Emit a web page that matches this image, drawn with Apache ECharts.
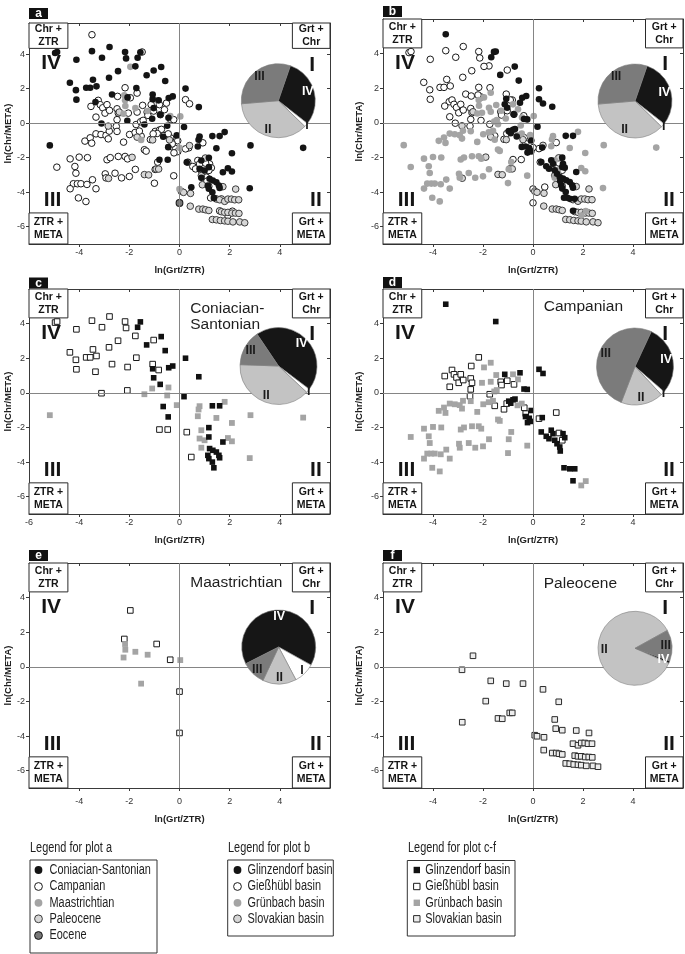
<!DOCTYPE html>
<html><head><meta charset="utf-8">
<script src="https://cdn.jsdelivr.net/npm/echarts@6/dist/echarts.min.js"></script>
<style>html,body{margin:0;padding:0;background:#fff}#c{width:685px;height:954px}</style>
</head><body><div id="c"></div><script>
// ---------------- DATA ----------------
const ageNames = ['Coniacian-Santonian','Campanian','Maastrichtian','Paleocene','Eocene'];
const basinNames = ['Glinzendorf basin','Gießhübl basin','Grünbach basin','Slovakian basin'];
const panelLetters = ['a','b','c','d','e','f'];
const panelTitles = ['','','Coniacian-\nSantonian','Campanian','Maastrichtian','Paleocene'];
const xTickValues = [-4,-2,0,2,4];
const xTickLabelsC = [-6,-4,-2,0,2,4];
const yTickValues = [-6,-4,-2,0,2,4];
const quadrantNames = ['IV','I','II','III'];
const cornerBoxNames = ['Chr +\nZTR','Grt +\nChr','ZTR +\nMETA','Grt +\nMETA'];
const xAxisName = 'ln(Grt/ZTR)';
const yAxisName = 'ln(Chr/META)';

// Coniacian-Santonian (panel c)
const csGlinzendorf = [[-1.56,4.1],[-1.67,3.79],[-0.73,3.25],[-1.31,2.77],[-0.57,2.44],[-1.07,1.39],[-0.43,1.45],[-0.27,1.55],[-1.03,0.87],[-0.77,0.49],[0.24,2.0],[0.77,0.93],[0.18,-0.22],[-0.65,-0.79],[-0.45,-1.39],[1.31,-0.75],[1.6,-0.75],[1.17,-2.01],[1.17,-2.55],[1.73,-2.84],[1.2,-3.22],[1.33,-3.32],[1.47,-3.42],[1.57,-3.61],[1.6,-3.75],[1.13,-3.61],[1.17,-3.8],[1.31,-4.0],[1.37,-4.33]];
const csGiesshuebl = [[-4.96,4.06],[-4.88,4.12],[-4.11,3.67],[-3.49,4.17],[-3.09,3.79],[-2.79,4.41],[-2.17,4.12],[-2.13,3.75],[-1.76,3.29],[-2.45,3.01],[-1.03,3.05],[-4.37,2.34],[-4.13,1.91],[-3.72,2.05],[-3.56,2.05],[-3.45,2.51],[-3.31,2.13],[-2.81,2.63],[-1.72,2.03],[-4.11,1.36],[-3.35,1.22],[-2.69,1.66],[-2.07,1.49],[-1.07,1.66],[-0.83,1.32],[-3.11,-0.02],[-2.08,0.14],[-0.8,-2.12],[-0.47,-2.12],[0.29,-2.27],[0.47,-3.71]];
const csGruenbach = [[-5.17,-1.29],[-1.09,0.25],[-0.44,0.31],[-1.4,-0.08],[-0.49,-0.15],[-0.11,-0.71],[0.8,-0.77],[0.76,-0.96],[0.73,-1.35],[1.8,-0.52],[1.47,-1.45],[2.09,-1.74],[2.83,-1.29],[4.93,-1.43],[0.87,-2.16],[0.8,-2.64],[1.0,-2.74],[1.93,-2.61],[2.09,-2.8],[0.87,-3.17],[2.8,-3.77]];
// Campanian (panel d)
const campGlinzendorf = [[-3.49,5.12],[-1.49,4.12],[-1.13,1.07],[-0.52,1.16],[0.24,1.36],[0.4,1.12],[-0.36,0.22],[-0.23,0.2],[-0.97,-0.48],[-0.8,-0.4],[-0.72,-0.36],[-0.89,-0.6],[-0.07,-1.02],[-0.3,-1.37],[-0.15,-1.47],[-0.07,-1.65],[-0.22,-1.72],[0.37,-1.43],[0.33,-2.26],[0.53,-2.51],[0.64,-2.65],[0.73,-2.16],[0.8,-2.36],[0.87,-2.74],[0.96,-2.94],[1.07,-3.13],[1.09,-3.36],[1.2,-2.36],[1.27,-2.59],[1.24,-4.33],[1.47,-4.39],[1.67,-4.39],[1.6,-5.08]];
const campGiesshuebl = [[-2.17,2.05],[-2.47,1.55],[-3.53,0.97],[-3.24,1.32],[-3.16,1.07],[-3.06,0.89],[-2.89,1.07],[-2.97,0.58],[-2.79,0.74],[-3.33,0.35],[-2.49,0.83],[-2.44,0.58],[-2.49,0.2],[-2.52,-0.19],[-1.73,-0.08],[-1.29,0.64],[-1.26,0.45],[-1.03,0.7],[-0.76,0.49],[-1.53,-0.75],[-1.16,-0.95],[-1.05,-0.62],[-0.35,-0.86],[-0.29,-1.2],[0.24,-1.49],[0.93,-1.14],[1.04,-2.32],[1.17,-2.74]];
const campGruenbach = [[-1.69,1.74],[-1.96,1.47],[-1.47,1.03],[-0.8,1.07],[-0.6,0.78],[-2.04,0.58],[-1.69,0.64],[-1.55,0.08],[-1.45,0.16],[-3.77,-1.04],[-3.56,-0.85],[-3.5,-1.16],[-3.33,-0.62],[-3.13,-0.66],[-2.93,-0.71],[-2.8,-0.46],[-2.84,-0.91],[-2.49,-0.48],[-2.23,-1.1],[-1.99,-0.66],[-1.77,-0.54],[-1.6,-0.46],[-0.62,-0.72],[-0.45,-0.62],[-1.4,-1.54],[-1.33,-1.62],[-4.36,-2.07],[-4.0,-1.97],[-3.67,-2.0],[-2.89,-2.12],[-2.76,-2.0],[-2.44,-1.93],[-2.17,-1.93],[-2.07,-2.07],[-0.87,-2.26],[-4.89,-2.55],[-4.17,-2.51],[-4.13,-2.9],[-1.76,-2.68],[-0.97,-2.68],[-2.96,-2.94],[-2.93,-3.17],[-2.57,-2.9],[-2.31,-3.17],[-2.0,-3.09],[-3.47,-3.28],[-0.23,-3.05],[-4.23,-3.51],[-4.07,-3.51],[-3.93,-3.51],[-3.69,-3.55],[-3.33,-3.8],[-4.36,-3.8],[-1.0,-3.48],[-4.03,-4.33],[-3.73,-4.54],[1.93,-5.35],[2.11,-5.1]];
// Maastrichtian (panel e)
const maasGiesshuebl = [[-1.96,3.26],[-2.2,1.61],[-0.91,1.32],[-0.37,0.41],[0,-1.43],[0,-3.82]];
const maasGruenbach = [[-2.17,1.32],[-2.16,0.99],[-1.76,0.87],[-1.27,0.7],[-2.23,0.54],[-1.53,-0.97],[0.03,0.39]];
// Paleocene (panel f)
const paleoSlovakian = [[-2.4,0.64],[-2.84,-0.17],[-1.69,-0.81],[-1.07,-0.97],[-0.4,-0.97],[-1.89,-1.98],[-2.83,-3.2],[-1.4,-2.98],[-1.23,-3.0],[-0.93,-2.66],[-0.83,-2.66],[0.4,-1.3],[1.03,-2.02],[0.87,-3.04],[0.91,-3.57],[1.17,-3.66],[1.73,-3.68],[2.24,-3.82],[0.07,-3.95],[0.16,-4.01],[0.44,-4.07],[1.6,-4.44],[1.8,-4.53],[1.93,-4.4],[2.07,-4.4],[2.2,-4.44],[2.36,-4.44],[0.43,-4.81],[0.77,-4.98],[0.93,-4.98],[1.04,-5.02],[1.17,-5.06],[1.67,-5.13],[1.8,-5.17],[1.93,-5.17],[2.09,-5.21],[2.23,-5.21],[2.37,-5.23],[1.31,-5.58],[1.47,-5.6],[1.63,-5.64],[1.8,-5.66],[1.93,-5.68],[2.13,-5.72],[2.4,-5.72],[2.6,-5.77]];
// Eocene (only in plot a)
const eoceneGiesshuebl = [[0,-4.62]];

// pie shares (%) in order IV, I, II, III
const pieA = [30.3,1.7,36.4,31.6];
const pieB = [30.3,1.7,36.4,31.6];
const pieC = [44.7,1.7,38.6,15.0];
const pieD = [29.4,1.7,17.8,51.1];
const pieE = [65.6,9.2,14.7,10.5];
const pieF = [1.1,0,85.3,13.6];

// ---------------- STYLES / LAYOUT ----------------
const FONT = 'Liberation Sans, Arial, sans-serif';
const ST = {
  cBlack:{symbol:'circle',size:6.6,fill:'#141414',stroke:null},
  cOpen:{symbol:'circle',size:6.6,fill:'#ffffff',stroke:'#1a1a1a'},
  cGray:{symbol:'circle',size:6.6,fill:'#a4a4a4',stroke:null},
  cPaleo:{symbol:'circle',size:6.6,fill:'#d6d6d6',stroke:'#3c3c3c'},
  cEoc:{symbol:'circle',size:6.8,fill:'#777777',stroke:'#111111'},
  sBlack:{symbol:'rect',size:5.6,fill:'#111111',stroke:null},
  sOpen:{symbol:'rect',size:5.6,fill:'#ffffff',stroke:'#1a1a1a'},
  sGray:{symbol:'rect',size:5.8,fill:'#a4a4a4',stroke:null},
  sSlov:{symbol:'rect',size:5.6,fill:'#ececec',stroke:'#2a2a2a'}
};
const ageStyles = [ST.cBlack, ST.cOpen, ST.cGray, ST.cPaleo, ST.cEoc];
const basinCircleStyles = [ST.cBlack, ST.cOpen, ST.cGray, ST.cPaleo];
const basinSquareStyles = [ST.sBlack, ST.sOpen, ST.sGray, ST.sSlov];
const pieColors = ['#161616','#ffffff','#c3c3c3','#7b7b7b'];

const grids = [
  {left:29, top:23, width:301, height:221},
  {left:383, top:19, width:300, height:225},
  {left:29, top:289, width:301, height:225},
  {left:383, top:289, width:300, height:225},
  {left:29, top:563, width:301, height:225},
  {left:383, top:563, width:300, height:225}
];
const yMaxes = [5.8,6,6,6,6,6];
const xLabelMargin = [4,4,4,4,9,9];
const xNameGap = [21,21,21,21,26,26];
const yNameGap = [14,19,14,19,14,19];
const pieLayout = [
  {c:[278.3,100.7], r:37}, {c:[635,101], r:37},
  {c:[278.5,366], r:38.5}, {c:[635,366.5], r:38.5},
  {c:[278.7,647], r:37}, {c:[635,648.3], r:37}
];
const pieStart = [71,71,124,65,207,-20];
const pieIRadius = [1.9,1.9,1.9,1.9,1.65,1.6];
const titleY = [0,0,4.38,4.97,4.88,4.83];
const quadPos = [[-5.12,3.45],[5.29,3.36],[5.44,-4.48],[-5.06,-4.45]];

// per-panel series groups: [name, data, style]
const panels = [
  [[ageNames[1], campGlinzendorf.concat(campGiesshuebl, campGruenbach), ageStyles[1]],
   [ageNames[3], paleoSlovakian, ageStyles[3]],
   [ageNames[2], maasGiesshuebl.concat(maasGruenbach), ageStyles[2]],
   [ageNames[0], csGlinzendorf.concat(csGiesshuebl, csGruenbach), ageStyles[0]],
   [ageNames[4], eoceneGiesshuebl, ageStyles[4]]],
  [[basinNames[1], csGiesshuebl.concat(campGiesshuebl, maasGiesshuebl, eoceneGiesshuebl), basinCircleStyles[1]],
   [basinNames[3], paleoSlovakian, basinCircleStyles[3]],
   [basinNames[2], csGruenbach.concat(campGruenbach, maasGruenbach), basinCircleStyles[2]],
   [basinNames[0], csGlinzendorf.concat(campGlinzendorf), basinCircleStyles[0]]],
  [[basinNames[1], csGiesshuebl, basinSquareStyles[1]],
   [basinNames[2], csGruenbach, basinSquareStyles[2]],
   [basinNames[0], csGlinzendorf, basinSquareStyles[0]]],
  [[basinNames[1], campGiesshuebl, basinSquareStyles[1]],
   [basinNames[2], campGruenbach, basinSquareStyles[2]],
   [basinNames[0], campGlinzendorf, basinSquareStyles[0]]],
  [[basinNames[1], maasGiesshuebl, basinSquareStyles[1]],
   [basinNames[2], maasGruenbach, basinSquareStyles[2]]],
  [[basinNames[3], paleoSlovakian, basinSquareStyles[3]]]
];
const pies = [pieA,pieB,pieC,pieD,pieE,pieF];

// ---------------- BUILD OPTION ----------------
const xAxis = [], yAxis = [], series = [];
const axisCol = '#3a3a3a';
grids.forEach((g,i)=>{
  xAxis.push({type:'value', gridIndex:i, min:-6, max:6, interval:2, position:'bottom',
    axisLine:{show:true,onZero:false,lineStyle:{color:axisCol,width:1}},
    axisTick:{show:true,length:3,customValues:xTickValues,lineStyle:{color:axisCol}},
    axisLabel:{show:true,customValues:(i===2?xTickLabelsC:xTickValues),fontSize:9,color:'#333',margin:xLabelMargin[i],fontFamily:FONT,showMinLabel:true},
    splitLine:{show:false},
    name:xAxisName, nameLocation:'middle', nameGap:xNameGap[i],
    nameTextStyle:{fontSize:9.5,fontWeight:'bold',color:'#222',fontFamily:FONT}});
  xAxis.push({type:'value', gridIndex:i, min:-6, max:6, interval:2, position:'top',
    axisLine:{show:true,onZero:false,lineStyle:{color:axisCol,width:1}},
    axisTick:{show:true,inside:true,length:3,customValues:[-4,-2,2,4],lineStyle:{color:axisCol}},
    axisLabel:{show:false}, splitLine:{show:false}});
  yAxis.push({type:'value', gridIndex:i, min:-7, max:yMaxes[i], position:'left',
    axisLine:{show:true,onZero:false,lineStyle:{color:axisCol,width:1}},
    axisTick:{show:true,length:3,customValues:yTickValues,lineStyle:{color:axisCol}},
    axisLabel:{show:true,customValues:yTickValues,fontSize:9,color:'#333',margin:4,fontFamily:FONT},
    splitLine:{show:false},
    name:yAxisName, nameLocation:'middle', nameGap:yNameGap[i],
    nameTextStyle:{fontSize:9.5,fontWeight:'bold',color:'#222',fontFamily:FONT}});
  yAxis.push({type:'value', gridIndex:i, min:-7, max:yMaxes[i], position:'right',
    axisLine:{show:true,onZero:false,lineStyle:{color:axisCol,width:1}},
    axisTick:{show:true,inside:true,length:3,customValues:[-6,-4,-2,2,4],lineStyle:{color:axisCol}},
    axisLabel:{show:false}, splitLine:{show:false}});

  const xi = 2*i, yi = 2*i;
  // zero lines
  series.push({type:'scatter', xAxisIndex:xi, yAxisIndex:yi, z:1, silent:true, symbolSize:0, data:[[0,0]],
    itemStyle:{opacity:1},
    markLine:{silent:true, symbol:['none','none'], label:{show:false}, animation:false,
      lineStyle:{color:'#858585',width:1,type:'solid',opacity:1},
      data:[{xAxis:0},{yAxis:0}]}});
  // data points
  panels[i].forEach(([name,data,s])=>{
    series.push({type:'scatter', name, xAxisIndex:xi, yAxisIndex:yi, z:2, silent:true,
      symbol:s.symbol, symbolSize:s.size, data,
      itemStyle:{color:s.fill, borderColor:s.stroke||s.fill, borderWidth:s.stroke?1:0, opacity:1}});
  });
  // annotations: quadrant numerals, title, corner boxes
  const yM = yMaxes[i];
  const txt = quadrantNames.map((q,k)=>({value:quadPos[k], label:{formatter:q}}));
  if (panelTitles[i]) txt.push({value:[0.43,titleY[i]], label:{formatter:panelTitles[i], position:'right', distance:0,
    fontSize:15.5, fontWeight:'normal', lineHeight:16, align:'left', color:'#1e1e1e'}});
  series.push({type:'scatter', xAxisIndex:xi, yAxisIndex:yi, z:3, silent:true, symbolSize:0, data:txt,
    itemStyle:{opacity:1, color:'#000'},
    label:{show:true, position:'inside', fontSize:21, fontWeight:'bold', color:'#151515', opacity:1, fontFamily:FONT},
    markArea:{silent:true, animation:false,
      itemStyle:{color:'#ffffff', borderColor:'#2a2a2a', borderWidth:1, opacity:1},
      label:{show:true, position:'inside', fontSize:10.5, fontWeight:'bold', color:'#151515', lineHeight:12.5, fontFamily:FONT},
      data:[
        [{name:cornerBoxNames[0], xAxis:-6, yAxis:yM},{xAxis:-4.45, yAxis:4.33}],
        [{name:cornerBoxNames[1], xAxis:4.5, yAxis:yM},{xAxis:6, yAxis:4.33}],
        [{name:cornerBoxNames[2], xAxis:-6, yAxis:-5.2},{xAxis:-4.45, yAxis:-7}],
        [{name:cornerBoxNames[3], xAxis:4.5, yAxis:-5.2},{xAxis:6, yAxis:-7}]
      ]}});
  // pies
  const P = pieLayout[i], vals = pies[i];
  series.push({type:'pie', center:P.c, radius:P.r, startAngle:pieStart[i], clockwise:true, z:5, silent:true,
    avoidLabelOverlap:false, label:{show:false}, labelLine:{show:false}, animation:false,
    itemStyle:{borderColor:'#7d7d7d', borderWidth:0.6},
    data:vals.map((v,k)=>({name:quadrantNames[k], value:v, itemStyle:{color:pieColors[k]}}))});
  series.push({type:'pie', center:P.c, radius:P.r*1.5, startAngle:pieStart[i], clockwise:true, z:6, silent:true,
    avoidLabelOverlap:false, labelLine:{show:false}, animation:false,
    itemStyle:{color:'rgba(0,0,0,0)', borderWidth:0},
    label:{show:true, position:'inside', formatter:'{b}', fontSize:12.5, fontWeight:'bold', fontFamily:FONT},
    data:vals.map((v,k)=>({name:quadrantNames[k], value:v, itemStyle:{color:'rgba(0,0,0,0)'},
      label:{show:k!==1 && v>0, color:(k===0?'#ffffff':'#1c1c1c')}}))});
  series.push({type:'pie', center:P.c, radius:P.r*pieIRadius[i], startAngle:pieStart[i], clockwise:true, z:6, silent:true,
    avoidLabelOverlap:false, labelLine:{show:false}, animation:false,
    itemStyle:{color:'rgba(0,0,0,0)', borderWidth:0},
    label:{show:true, position:'inside', formatter:'{b}', fontSize:12.5, fontWeight:'bold', fontFamily:FONT},
    data:vals.map((v,k)=>({name:quadrantNames[k], value:v, itemStyle:{color:'rgba(0,0,0,0)'},
      label:{show:k===1 && v>0, color:'#1c1c1c'}}))});
});

// ---------------- GRAPHIC: panel letters + legends ----------------
const graphic = [];
const letterTop = [8,6,277.5,277,550,550];
grids.forEach((g,i)=>{
  graphic.push({type:'rect', shape:{x:g.left, y:letterTop[i], width:19, height:11}, style:{fill:'#111'}, z:10});
  graphic.push({type:'text', x:g.left+9.5, y:letterTop[i]+5.8, z:11,
    style:{text:panelLetters[i], fill:'#fff', fontSize:12, fontWeight:'bold', fontFamily:FONT, align:'center', verticalAlign:'middle'}});
});
function legendText(str, x, y){
  return {type:'text', x, y, scaleX:0.78, z:11,
    style:{text:str, fill:'#1e1e1e', fontSize:14, fontFamily:FONT, align:'left', verticalAlign:'middle'}};
}
function legendMarker(s, cx, cy){
  const st = {fill:s.fill, stroke:s.stroke||null, lineWidth:s.stroke?1:0};
  if (s.symbol==='circle') return {type:'circle', shape:{cx, cy, r:3.9}, style:st, z:11};
  return {type:'rect', shape:{x:cx-3.2, y:cy-3.2, width:6.4, height:6.4}, style:st, z:11};
}
const legendRows = [870, 886.5, 902.8, 918.8, 935.5];
const legends = [
  {title:'Legend for plot a', tx:30, box:[30,860,127,93], mx:38.5, lx:49.5, names:ageNames, styles:ageStyles},
  {title:'Legend for plot b', tx:228, box:[227.7,860,105.6,76], mx:237.5, lx:247.5, names:basinNames, styles:basinCircleStyles},
  {title:'Legend for plot c-f', tx:408, box:[407.3,860.5,107.7,75.5], mx:416.8, lx:425.3, names:basinNames, styles:basinSquareStyles}
];
legends.forEach(L=>{
  graphic.push(legendText(L.title, L.tx, 848.3));
  graphic.push({type:'rect', shape:{x:L.box[0], y:L.box[1], width:L.box[2], height:L.box[3]},
    style:{fill:'none', stroke:'#333', lineWidth:1}, z:10});
  L.names.forEach((n,k)=>{
    graphic.push(legendMarker(L.styles[k], L.mx, legendRows[k]));
    graphic.push(legendText(n, L.lx, legendRows[k]));
  });
});

const chart = echarts.init(document.getElementById('c'), null, {renderer:'canvas'});
chart.setOption({
  animation:false,
  backgroundColor:'#ffffff',
  textStyle:{fontFamily:FONT},
  grid:grids.map(g=>Object.assign({containLabel:false}, g)),
  xAxis, yAxis, series, graphic
});
</script></body></html>
